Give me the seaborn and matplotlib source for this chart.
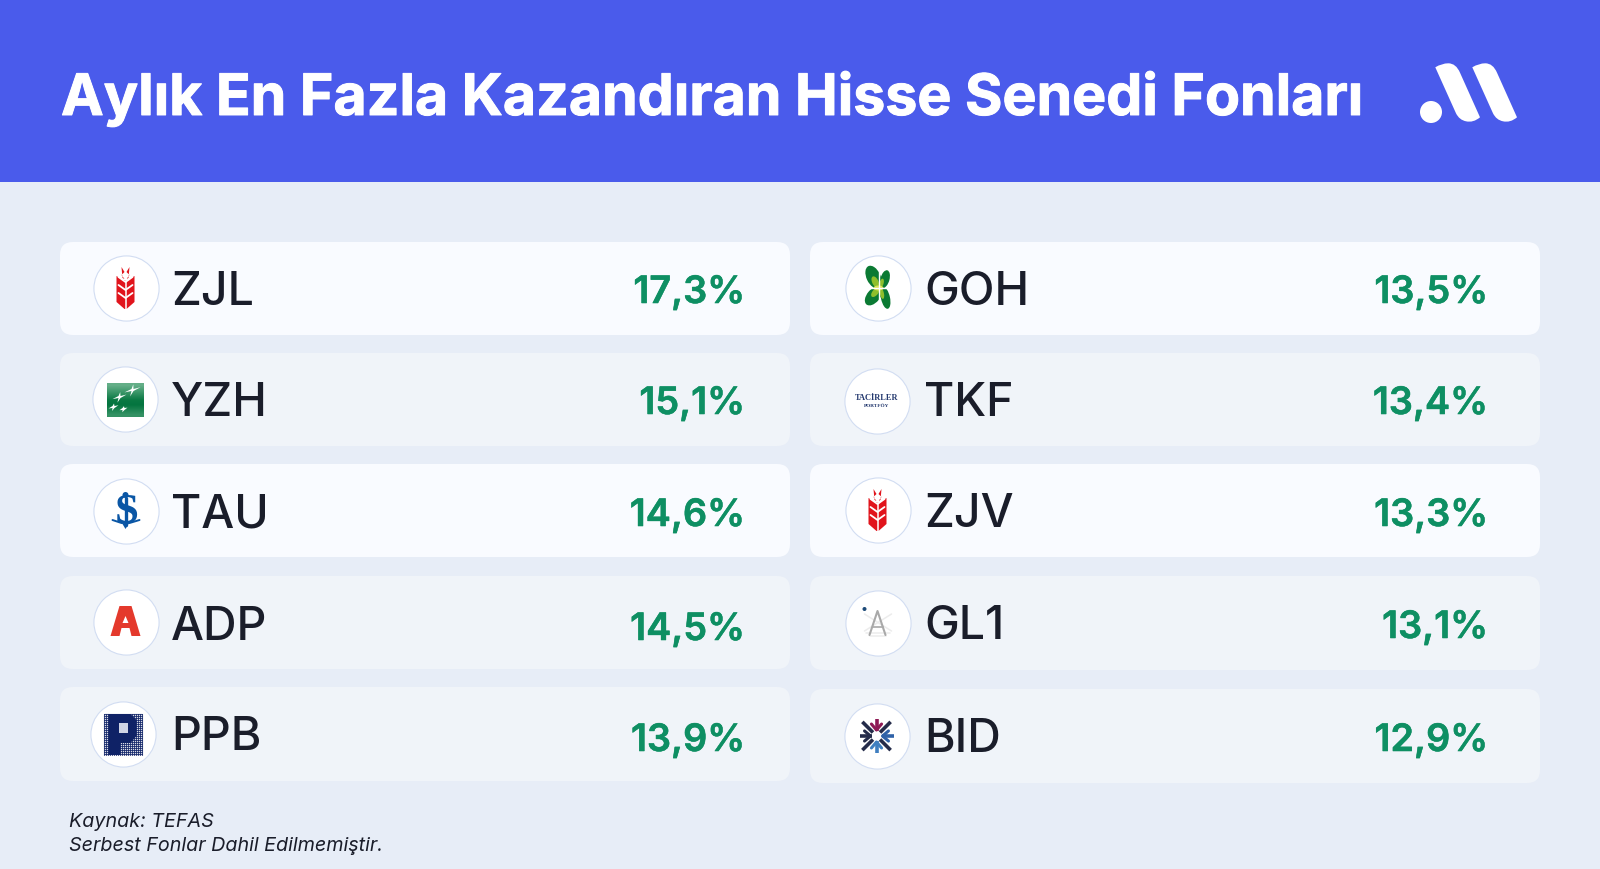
import numpy as np
import pandas as pd
import matplotlib
matplotlib.use("Agg")
import matplotlib.pyplot as plt
import matplotlib.patheffects as pe
import seaborn as sns
from matplotlib.patches import FancyBboxPatch, Polygon, Circle, Ellipse, Rectangle, PathPatch
from matplotlib.path import Path

# fund data, left column then right column
left_funds = ["ZJL", "YZH", "TAU", "ADP", "PPB"]
left_returns = [17.3, 15.1, 14.6, 14.5, 13.9]
right_funds = ["GOH", "TKF", "ZJV", "GL1", "BID"]
right_returns = [13.5, 13.4, 13.3, 13.1, 12.9]

title = "Aylık En Fazla Kazandıran Hisse Senedi Fonları"
source_lines = ["Kaynak: TEFAS", "Serbest Fonlar Dahil Edilmemiştir."]

# layout in pixels of the 1600x869 canvas
left_tops = [242, 353, 464, 576, 687]
right_tops = [242, 353, 464, 576, 689]
left_heights = [93, 93, 93, 93, 94]
right_heights = [93, 93, 93, 94, 94]
left_logo_x = [125.5, 124.5, 125.5, 125.5, 122.5]
left_logo_y = [288, 399, 511, 622, 734]
right_logo_x = [877.5, 876.5, 877.5, 877.5, 876.5]
right_logo_y = [288, 401, 510, 623, 736]
left_base = [305, 416, 527, 639.5, 750]
right_base = [305, 416, 527, 639, 752]
left_val_base = [303, 414, 526, 640, 751]
right_val_base = [303, 414, 526, 638, 751]

BG = "#e7edf7"
HEADER = "#4a5beb"
CARD_A = "#f9fbff"
CARD_B = "#f0f4f9"
INK = "#1a1d2a"
GREEN = "#0e8f63"

sns.set_theme(style="white")
plt.rcParams["font.family"] = ["Inter", "DejaVu Sans"]

fig = plt.figure(figsize=(16, 8.69), dpi=100, facecolor=BG)
ax = fig.add_axes([0, 0, 1, 1])
ax.set_facecolor(BG)
ax.axis("off")
ax.set_xlim(0, 1600)
ax.set_ylim(869, 0)

ax.add_patch(Rectangle((0, 0), 1600, 182, color=HEADER, lw=0, zorder=1))
ax.text(61, 115, title, color="white", fontsize=41.2, fontweight="bold", va="baseline", zorder=3,
        path_effects=[pe.withStroke(linewidth=0.7, foreground="white")])


def wheat(cx, cy):
    red = "#e1141c"
    h = 21
    ax.add_patch(Polygon([(cx - 9, cy - 12), (cx - 2, cy - 8), (cx + 2, cy - 8), (cx + 9, cy - 12),
                          (cx + 9, cy + 14), (cx + 1, cy + h), (cx - 1, cy + h), (cx - 9, cy + 14)],
                         color=red, lw=0, zorder=4))
    for side in (-1, 1):
        ax.add_patch(Polygon([(cx + side * 4, cy - h), (cx + side * 1, cy - 16), (cx + side * 4, cy - 13),
                              (cx + side * 1, cy - 9), (cx + side * 3, cy - 10)], color=red, lw=0, zorder=4))
    ax.plot([cx, cx], [cy - 13, cy + h], color="white", lw=1.1, zorder=5)
    for dy in (-8, 0, 8):
        ax.plot([cx - 7, cx, cx + 7], [dy + cy - 3, dy + cy + 2, dy + cy - 3], color="white", lw=1.3, zorder=5)


def bnp(cx, cy):
    grad = np.array([0.8, 0.55, 0.3, 0.05, 0.0, 0.2, 0.4]).reshape(-1, 1)
    cmap = matplotlib.colors.LinearSegmentedColormap.from_list("g", ["#04753f", "#7cbd9a"])
    ax.imshow(grad, cmap=cmap, vmin=0, vmax=1, extent=(cx - 18, cx + 19, cy + 18, cy - 16),
              aspect="auto", interpolation="bilinear", zorder=4)
    for bx, by, s in [(8, -9, 8), (-5, -2, 7), (-11, 8, 5), (-1, 10, 4)]:
        ax.add_patch(Polygon([(cx + bx - s, cy + by + s * 0.3), (cx + bx - 1, cy + by - 1),
                              (cx + bx + s * 0.1, cy + by - s * 0.7), (cx + bx + 1, cy + by - 1),
                              (cx + bx + s, cy + by - s * 0.35), (cx + bx + 1, cy + by + 1),
                              (cx + bx - s * 0.3, cy + by + s * 0.8), (cx + bx - 1, cy + by + 1)],
                             color="white", lw=0, zorder=5))


def isbank(cx, cy):
    blue = "#0a56a5"
    ax.text(cx + 1, cy + 2, "S", color=blue, fontsize=31, fontweight="bold", family="Liberation Serif",
            ha="center", va="center", zorder=4)
    ax.plot([cx, cx], [cy - 13, cy + 14], color=blue, lw=2.4, zorder=5)
    ax.add_patch(Circle((cx, cy - 16), 3, color=blue, lw=0, zorder=5))
    ax.plot([cx - 13, cx - 4, cx + 4, cx + 14], [cy + 9, cy + 12, cy + 12, cy + 9], color=blue, lw=1.4, zorder=5)
    ax.add_patch(Polygon([(cx - 3, cy + 13), (cx + 3, cy + 13), (cx, cy + 18)], color=blue, lw=0, zorder=5))


def ak_a(cx, cy):
    red = "#e4392c"
    ax.add_patch(Polygon([(cx - 6, cy - 16), (cx + 6, cy - 16), (cx + 15, cy + 14), (cx + 6, cy + 14),
                          (cx + 4, cy + 6), (cx - 4, cy + 6), (cx - 6, cy + 14), (cx - 15, cy + 14)],
                         color=red, lw=0, zorder=4))
    ax.add_patch(Polygon([(cx, cy - 6), (cx + 3, cy + 1), (cx - 3, cy + 1)], color="white", lw=0, zorder=5))


def pusula(cx, cy):
    navy = "#0f2266"
    x0, x1, y0, y1 = cx - 19, cx + 19, cy - 20, cy + 21
    for gx in np.arange(x0, x1 + 0.1, 2):
        ax.plot([gx, gx], [y0, y1], color=navy, lw=0.8, alpha=0.8, zorder=4)
    for gy in np.arange(y0, y1 + 0.1, 2):
        ax.plot([x0, x1], [gy, gy], color=navy, lw=0.8, alpha=0.8, zorder=4)
    ax.add_patch(Polygon([(cx - 14, y0), (cx + 8, y0), (cx + 14, y0 + 6), (cx + 14, cy + 2), (cx + 8, cy + 9),
                          (cx - 2, cy + 9), (cx - 2, y1), (cx - 14, y1)], color=navy, lw=0, zorder=5))
    ax.add_patch(Rectangle((cx - 4, cy - 11), 9, 10, color="#cfd4e4", lw=0, zorder=6))


def clover(cx, cy):
    for dx, dy, w, h, ang in [(-4, -11, 14, 24, -25), (7.5, -9, 9, 18, 15),
                              (-4, 8, 13, 22, 40), (8, 10, 9, 22, -12)]:
        ax.add_patch(Ellipse((cx + dx, cy + dy), w, h, angle=ang, color="#0b7a33", lw=0, zorder=4))
        ax.add_patch(Ellipse((cx + dx * 0.55, cy + dy * 0.55), w * 0.45, h * 0.5, angle=ang, color="#8fbf2c", lw=0, zorder=5))
    ax.add_patch(Ellipse((cx + 1, cy), 10, 5, color="#dbe35a", lw=0, zorder=5))
    ax.plot([cx + 1, cx + 1], [cy - 20, cy + 20], color="white", lw=1, zorder=6)
    ax.plot([cx - 11, cx + 12], [cy, cy], color="white", lw=1, zorder=6)


def tacirler(cx, cy):
    navy = "#23386e"
    ax.text(cx, cy - 3, "TACİRLER", color=navy, fontsize=6, fontweight="bold", family="Liberation Serif",
            ha="center", va="center", zorder=4)
    ax.text(cx, cy + 5, "PORTFÖY", color=navy, fontsize=3.8, fontweight="bold", family="Liberation Serif",
            ha="center", va="center", zorder=4)


def sextant(cx, cy):
    for x0, y0, x1, y1 in [(-13, -9, 14, 8), (14, -9, -13, 8), (-12, 10, 12, 10), (-8, 13, 8, 13)]:
        ax.plot([cx + x0, cx + x1], [cy + y0, cy + y1], color="#ececec", lw=1.1, zorder=4)
    ax.plot([cx - 8, cx, cx + 8], [cy + 12, cy - 12, cy + 12], color="#a9a9a9", lw=1.5, zorder=5)
    ax.plot([cx - 5, cx + 5], [cy + 4, cy + 4], color="#a9a9a9", lw=1.2, zorder=5)
    ax.add_patch(Circle((cx - 13, cy - 14), 2, color="#1d4a78", lw=0, zorder=5))


def cs_star(cx, cy):
    dark = "#252c4a"
    arms = [(0, "#2f62a8"), (90, "#3f7fc0"), (180, "#252c4a"), (270, "#8e1a55")]
    for ang in (45, 135, 225, 315):
        a = np.deg2rad(ang)
        ax.plot([cx + 5 * np.cos(a), cx + 20 * np.cos(a)], [cy + 5 * np.sin(a), cy + 20 * np.sin(a)],
                color=dark, lw=2.6, solid_capstyle="butt", zorder=4)
    for ang, col in arms:
        a = np.deg2rad(ang)
        ax.plot([cx + 5 * np.cos(a), cx + 17 * np.cos(a)], [cy + 5 * np.sin(a), cy + 17 * np.sin(a)],
                color=col, lw=2.6, solid_capstyle="butt", zorder=5)
        ax.plot([cx + 13 * np.cos(a - 0.4), cx + 6 * np.cos(a), cx + 13 * np.cos(a + 0.4)],
                [cy + 13 * np.sin(a - 0.4), cy + 6 * np.sin(a), cy + 13 * np.sin(a + 0.4)],
                color=col, lw=2.2, zorder=5)


left_logos = [wheat, bnp, isbank, ak_a, pusula]
right_logos = [clover, tacirler, wheat, sextant, cs_star]

rows = pd.DataFrame({
    "fund": left_funds + right_funds,
    "ret": left_returns + right_returns,
    "logo_x": left_logo_x + right_logo_x,
    "logo_y": left_logo_y + right_logo_y,
})

columns = [
    (left_funds, left_returns, left_tops, left_heights, left_logo_x, left_logo_y, left_base, left_val_base, left_logos, 60, 730, 171, 745),
    (right_funds, right_returns, right_tops, right_heights, right_logo_x, right_logo_y, right_base, right_val_base, right_logos, 810, 730, 924.5, 1488),
]

for funds, rets, tops, heights, lx, ly, base, vbase, logos, card_x, card_w, label_x, value_x in columns:
    for i, fund in enumerate(funds):
        fill = CARD_A if i in (0, 2) else CARD_B
        ax.add_patch(FancyBboxPatch((card_x, tops[i]), card_w, heights[i], boxstyle="round,pad=0,rounding_size=13",
                                    fc=fill, ec="none", zorder=1))
        ax.text(label_x, base[i], fund, color=INK, fontsize=33.5, fontweight="medium", va="baseline", zorder=3)
        ax.text(value_x, vbase[i], f"{rets[i]:.1f}%".replace(".", ","), color=GREEN, fontsize=27.2, fontweight="semibold",
                ha="right", va="baseline", zorder=3,
                path_effects=[pe.withStroke(linewidth=0.4, foreground=GREEN)])
        logos[i](lx[i], ly[i])

# white logo discs
sns.scatterplot(data=rows, x="logo_x", y="logo_y", s=2200, color="white", edgecolor="#d2ddf2", linewidth=0.8,
                legend=False, ax=ax, zorder=2)

# brand mark in the header
ax.add_patch(Circle((1431, 112), 11, color="white", lw=0, zorder=3))
verts = [(1435.3, 67.3), (1441.7, 63.3), (1448.3, 63.3), (1456, 63.3), (1460, 72.7), (1480, 117.3),
         (1473.3, 123), (1466, 121.3), (1459.3, 120), (1456, 113.3), (1435.3, 67.3)]
codes = [Path.MOVETO, Path.CURVE3, Path.CURVE3, Path.CURVE3, Path.CURVE3, Path.LINETO,
         Path.CURVE3, Path.CURVE3, Path.CURVE3, Path.CURVE3, Path.CLOSEPOLY]
for shift in (0, 37):
    ax.add_patch(PathPatch(Path([(x + shift, y) for x, y in verts], codes), fc="white", ec="none", zorder=3))

for y, line in zip((827, 851), source_lines):
    ax.text(69, y, line, color=INK, fontsize=14.2, style="italic", va="baseline", zorder=3)

ax.set_xlim(0, 1600)
ax.set_ylim(869, 0)
ax.set_xlabel("")
ax.set_ylabel("")
fig.savefig("out.png", dpi=100, facecolor=BG)
